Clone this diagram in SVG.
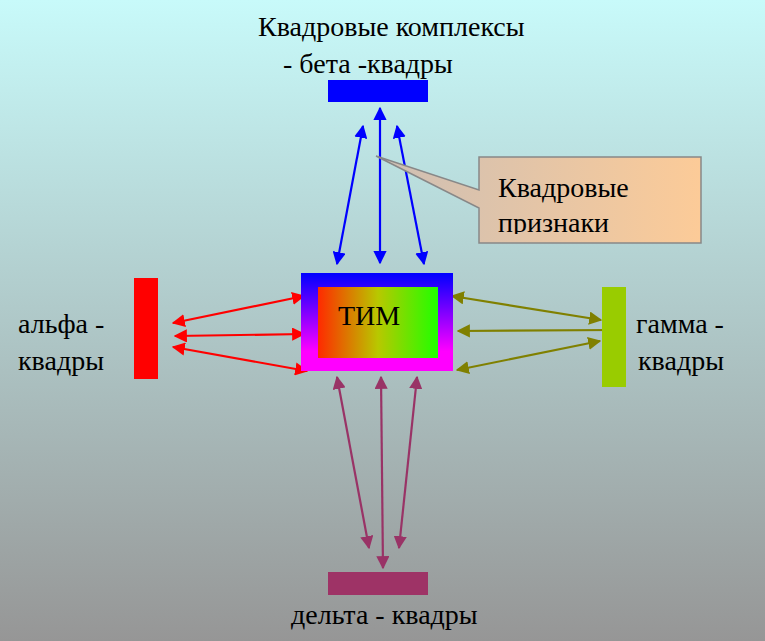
<svg xmlns="http://www.w3.org/2000/svg" width="765" height="641" viewBox="0 0 765 641">
<defs>
<linearGradient id="bg" x1="0" y1="0" x2="0" y2="1"><stop offset="0" stop-color="#c8fafa"/><stop offset="1" stop-color="#969696"/></linearGradient>
<linearGradient id="outer" x1="0" y1="0" x2="0" y2="1"><stop offset="0" stop-color="#0000ff"/><stop offset="0.8" stop-color="#ff00ff"/></linearGradient>
<linearGradient id="inner" x1="0" y1="0" x2="1" y2="0"><stop offset="0" stop-color="#ff2a00"/><stop offset="0.5" stop-color="#b8c800"/><stop offset="1" stop-color="#20ff00"/></linearGradient>
<linearGradient id="call" x1="0" y1="0" x2="1" y2="0"><stop offset="0" stop-color="#cdbfb5"/><stop offset="1" stop-color="#fccb98"/></linearGradient>
<marker id="mb" viewBox="0 0 10 10" refX="9" refY="5" markerWidth="6" markerHeight="6" orient="auto-start-reverse" markerUnits="strokeWidth"><path d="M0,0L10,5L0,10z" fill="#0000ff"/></marker>
<marker id="mr" viewBox="0 0 10 10" refX="9" refY="5" markerWidth="6" markerHeight="6" orient="auto-start-reverse" markerUnits="strokeWidth"><path d="M0,0L10,5L0,10z" fill="#ff0000"/></marker>
<marker id="mo" viewBox="0 0 10 10" refX="9" refY="5" markerWidth="6" markerHeight="6" orient="auto-start-reverse" markerUnits="strokeWidth"><path d="M0,0L10,5L0,10z" fill="#808000"/></marker>
<marker id="md" viewBox="0 0 10 10" refX="9" refY="5" markerWidth="6" markerHeight="6" orient="auto-start-reverse" markerUnits="strokeWidth"><path d="M0,0L10,5L0,10z" fill="#993366"/></marker>
<clipPath id="cc"><rect x="479" y="157" width="223" height="77"/></clipPath>
</defs>
<style>
text{font-family:"Liberation Serif",serif;font-size:28px;fill:#000}
.b{stroke:#0000ff;stroke-width:2.2;marker-start:url(#mb);marker-end:url(#mb)}
.r{stroke:#ff0000;stroke-width:2.2;marker-start:url(#mr);marker-end:url(#mr)}
.o{stroke:#808000;stroke-width:2.2;marker-start:url(#mo);marker-end:url(#mo)}
.d{stroke:#993366;stroke-width:2.2;marker-start:url(#md);marker-end:url(#md)}
</style>
<rect width="765" height="641" fill="url(#bg)"/>
<g id="connectors" fill="none">
<line class="b" x1="337" y1="264" x2="363" y2="126"/>
<line class="b" x1="380" y1="263" x2="380" y2="108"/>
<line class="b" x1="424" y1="264" x2="397" y2="126"/>
<line class="r" x1="173" y1="323" x2="304" y2="296"/>
<line class="r" x1="175" y1="336" x2="304" y2="334"/>
<line class="r" x1="173" y1="347" x2="307" y2="371"/>
<line class="o" x1="452" y1="296" x2="601" y2="320"/>
<line class="o" x1="458" y1="331" x2="614" y2="330"/>
<line class="o" x1="457" y1="370" x2="600" y2="341"/>
<line class="d" x1="337" y1="377" x2="369" y2="548"/>
<line class="d" x1="381" y1="377" x2="383" y2="568"/>
<line class="d" x1="417" y1="377" x2="399" y2="548"/>
</g>
<g id="callout">
<path d="M479,157H701V243H479V208L376,156L479,190Z" fill="url(#call)" stroke="#888" stroke-width="1.5"/>
<g clip-path="url(#cc)"><text x="498" y="197">Квадровые</text><text x="498" y="232">признаки</text></g>
</g>
<g id="beta"><rect x="328" y="80" width="100" height="22" fill="#0000ff"/><text x="258" y="36">Квадровые комплексы</text><text x="283" y="73">- бета -квадры</text></g>
<g id="alpha"><rect x="134" y="278" width="24" height="101" fill="#ff0000"/><text x="18" y="333">альфа -</text><text x="18" y="370">квадры</text></g>
<g id="gamma"><rect x="602" y="287" width="24" height="100" fill="#99cc00"/><text x="636" y="333">гамма -</text><text x="638" y="370">квадры</text></g>
<g id="delta"><rect x="328" y="572" width="100" height="23" fill="#9e3366"/><text x="291" y="624">дельта - квадры</text></g>
<g id="tim"><rect x="301" y="273" width="152" height="98" fill="url(#outer)"/><rect x="318" y="287" width="120" height="71" fill="url(#inner)"/><text x="338" y="325">ТИМ</text></g>
</svg>
